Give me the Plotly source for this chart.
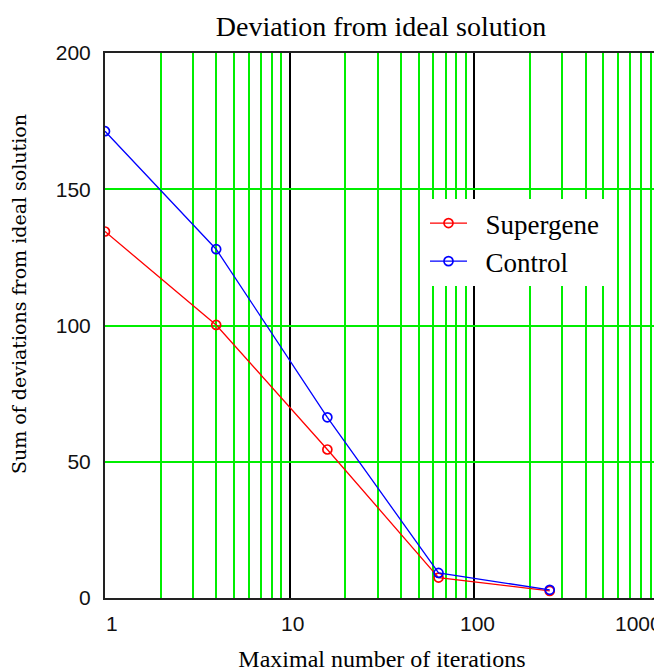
import math
import plotly.graph_objects as go

# ---- data ----
iterations = [1, 4, 16, 64, 256]
supergene = [134.5, 100.2, 54.5, 7.5, 2.6]
control = [171.3, 128.0, 66.3, 9.2, 3.0]

x_tick_vals = [1, 10, 100, 1000]
x_tick_text = ["1", "10", "100", "1000"]
y_tick_vals = [0, 50, 100, 150, 200]
y_tick_text = ["0", "50", "100", "150", "200"]

title_text = "Deviation from ideal solution"
x_title = "Maximal number of iterations"
y_title = "Sum of deviations from ideal solution"

GREEN = "#00ee00"
SERIF = "Liberation Serif"
SANS = "Liberation Sans"

# page body has an 8px margin; figure is sized/placed to compensate
W, H = 654, 664
ML, MR, MT, MB = 97, 3, 45, 74
PW = W - ML - MR
PH = H - MT - MB

fig = go.Figure()
fig.add_trace(go.Scatter(
    x=iterations, y=supergene, mode="lines+markers", name="  Supergene",
    line=dict(color="#ff0000", width=1.3),
    marker=dict(symbol="circle-open", size=9, color="#ff0000", line=dict(width=1.7)),
))
fig.add_trace(go.Scatter(
    x=iterations, y=control, mode="lines+markers", name="  Control",
    line=dict(color="#0000ff", width=1.3),
    marker=dict(symbol="circle-open", size=9, color="#0000ff", line=dict(width=1.7)),
))

minor_vals = [m * 10 ** e for e in range(3) for m in range(2, 10)]

fig.update_xaxes(
    type="log", range=[0, 3], automargin=False,
    tickvals=x_tick_vals, ticktext=x_tick_text, showticklabels=False,
    showgrid=True, gridcolor="#000000", gridwidth=2,
    minor=dict(tickvals=minor_vals, showgrid=True, gridcolor=GREEN, gridwidth=2, ticks=""),
    showline=True, linecolor="#222222", linewidth=2, mirror=True,
    zeroline=False, ticks="",
    title=dict(text=x_title, font=dict(family=SERIF, size=24, color="#000"), standoff=57),
)
fig.update_yaxes(
    range=[0, 200], automargin=False,
    tickvals=y_tick_vals, ticktext=y_tick_text,
    tickfont=dict(family=SANS, size=21, color="#111"),
    ticks="outside", ticklen=8, tickcolor="rgba(0,0,0,0)",
    showgrid=True, gridcolor=GREEN, gridwidth=2,
    showline=True, linecolor="#222222", linewidth=2, mirror=True,
    zeroline=False,
)

annotations = []
label_shift = [7, 3, 3, -21]
for v, t, s in zip(x_tick_vals, x_tick_text, label_shift):
    annotations.append(dict(
        x=math.log10(v), y=-26 / PH, xref="x", yref="paper",
        text=t, showarrow=False, xshift=s, yanchor="middle", xanchor="center",
        font=dict(family=SANS, size=21, color="#111"),
    ))
annotations.append(dict(
    x=-(105 - 19) / PW, y=(598 - 294) / PH, xref="paper", yref="paper",
    text=y_title, textangle=-90, showarrow=False,
    xanchor="center", yanchor="middle",
    font=dict(family="DejaVu Serif", size=19, color="#000"),
))

fig.update_layout(
    width=W, height=H,
    margin=dict(l=ML, r=MR, t=MT, b=MB, autoexpand=False),
    paper_bgcolor="white", plot_bgcolor="white",
    title=dict(text=title_text, x=(381 - 8) / W, xanchor="center",
               y=1 - (26 - 8) / H, yanchor="middle", yref="container",
               font=dict(family=SERIF, size=28, color="#000")),
    showlegend=True,
    legend=dict(x=(425 - 105) / PW, y=(598 - 199) / PH, xanchor="left", yanchor="top",
                bgcolor="white", borderwidth=0, itemwidth=37,
                font=dict(family=SERIF, size=27, color="#000")),
    annotations=annotations,
)

fig.write_html("out.html")
